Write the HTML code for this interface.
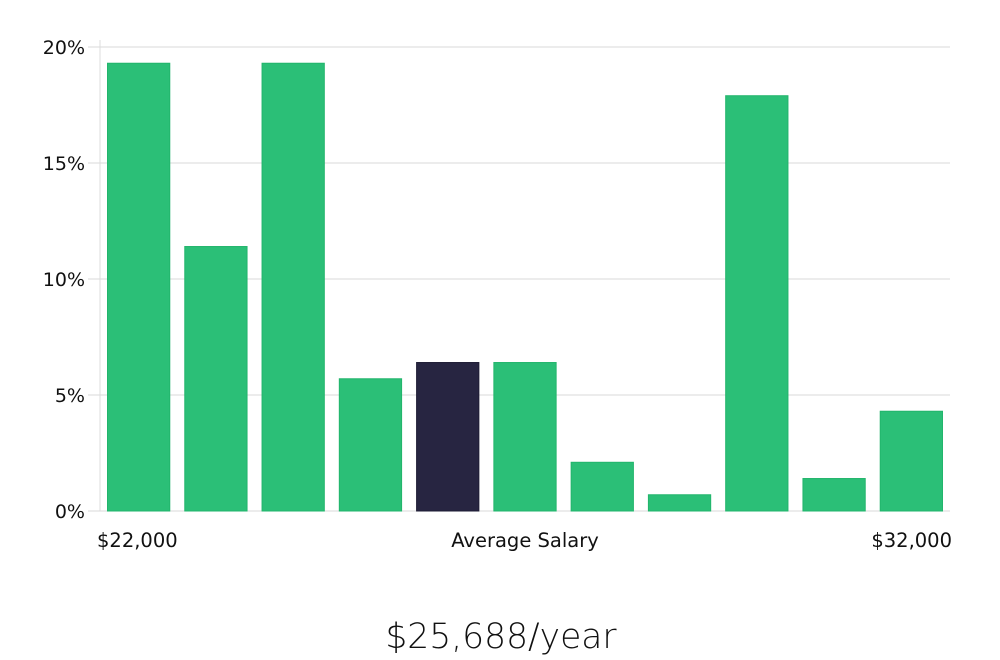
<!DOCTYPE html>
<html><head><meta charset="utf-8"><style>
html,body{margin:0;padding:0;background:#fff;width:1000px;height:660px;overflow:hidden}
svg text{font-family:"DejaVu Sans","Liberation Sans",sans-serif;fill:#111}
</style></head><body>
<svg id="chart" width="1000" height="660" xmlns="http://www.w3.org/2000/svg">
<g id="grid"></g><g id="bars"></g><g id="labels"></g>
</svg>
<script>
const categories = ["b1","b2","b3","b4","b5","b6","b7","b8","b9","b10","b11"];
const values = [19.3, 11.4, 19.3, 5.7, 6.4, 6.4, 2.1, 0.7, 17.9, 1.4, 4.3];
const highlight = [false,false,false,false,true,false,false,false,false,false,false];
const yTicks = [0,5,10,15,20];
const yTickLabels = ["0%","5%","10%","15%","20%"];
const xLabels = ["$22,000","Average Salary","$32,000"];
const titleText = "$25,688/year";

const NS = "http://www.w3.org/2000/svg";
const plotL = 100, plotR = 950, plotT = 47, plotB = 511, yMax = 20;
const y = v => plotB - (v / yMax) * (plotB - plotT);
const band = (plotR - plotL) / categories.length;
const x = i => plotL + i * band;
function mk(tag, attrs, parent){const e=document.createElementNS(NS,tag);for(const k in attrs)e.setAttribute(k,attrs[k]);parent.appendChild(e);return e;}
const grid = document.getElementById('grid'), barsG = document.getElementById('bars'), lab = document.getElementById('labels');

const axis = mk('line',{x1:plotL,x2:plotL,y1:40,y2:plotB,stroke:'#ddd','stroke-width':1},grid);


yTicks.forEach((t,i)=>{
  const gl = mk('line',{x1:88,x2:plotR,y1:y(t),y2:y(t),stroke:'#d9d9d9','stroke-width':1},grid);
  
  
  const tl = mk('text',{x:85,y:y(t)+7,'text-anchor':'end','font-size':19},lab);
  tl.textContent = yTickLabels[i];
  
  
});
values.forEach((v,i)=>{
  const r = mk('rect',{x:x(i)+7.5,y:y(v),width:band-15,height:plotB-y(v),
    fill:highlight[i]?'#272541':'#2bbf77',stroke:highlight[i]?'#1e1c35':'#22b56c','stroke-width':1},barsG);
  
  
});
const xl = [[97,'start'],[525,'middle'],[952,'end']];
xLabels.forEach((t,i)=>{
  const e = mk('text',{x:xl[i][0],y:547,'text-anchor':xl[i][1],'font-size':19.5},lab);
  e.textContent = t;
  
  
});
const tt = mk('text',{x:501,y:648,'text-anchor':'middle','font-size':34.5,'font-weight':'300'},lab);
tt.textContent = titleText;


</script>
</body></html>
